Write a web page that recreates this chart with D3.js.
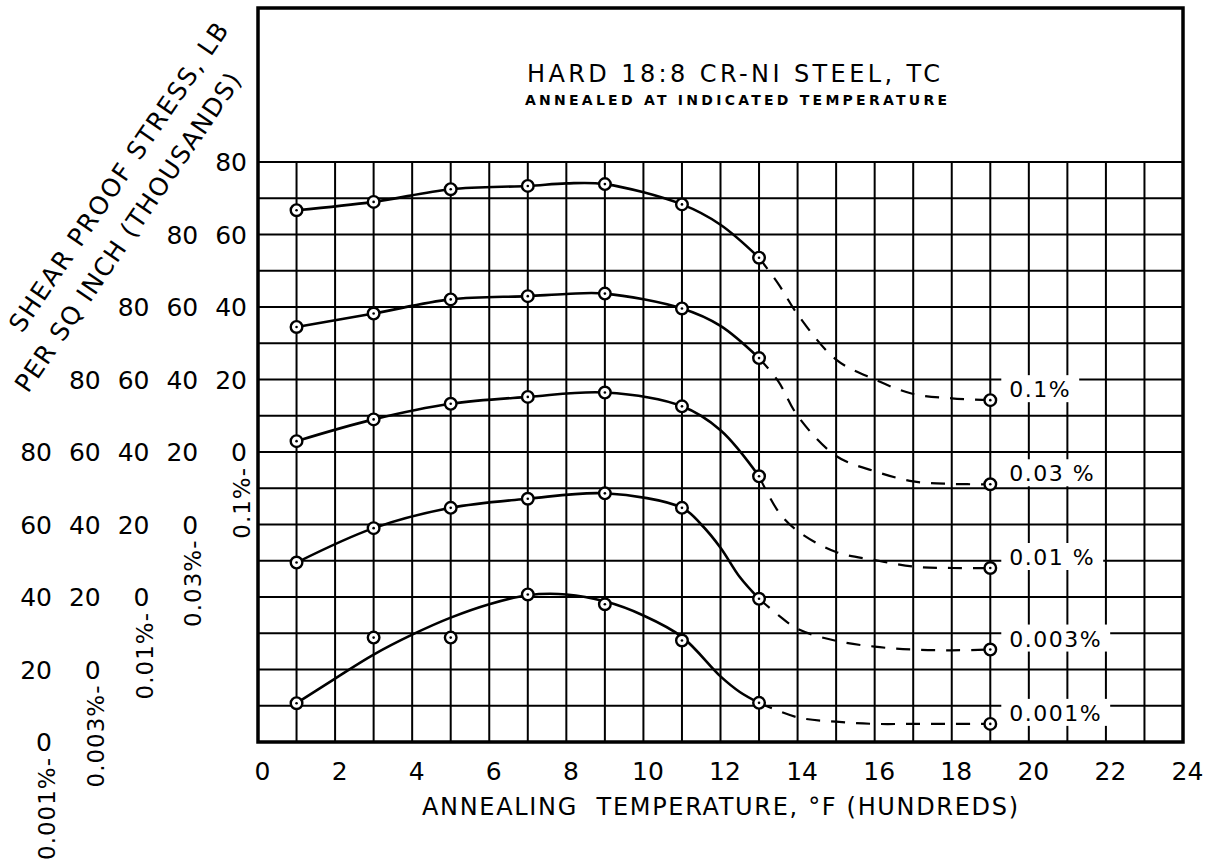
<!DOCTYPE html>
<html>
<head>
<meta charset="utf-8">
<script src="https://cdn.jsdelivr.net/npm/d3@7/dist/d3.min.js"></script>
<style>
    body { margin: 0; background: #fff; }
    text { font-family: "DejaVu Sans", sans-serif; fill: #000; }
</style>
</head>
<body>
<div id="chart"></div>
<script>
// annealing temperatures (hundreds of deg F) where tests were made
var temps = [1, 3, 5, 7, 9, 11, 13, 19];
var seriesNames = ["0.1%", "0.03 %", "0.01 %", "0.003%", "0.001%"];
var scaleNames = ["0.1%-", "0.03%-", "0.01%-", "0.003%-", "0.001%-"];
var scaleShift = [80, 60, 40, 20, 0];
var yTicks = [0, 20, 40, 60, 80];
var xTicks = [0, 2, 4, 6, 8, 10, 12, 14, 16, 18, 20, 22, 24];

// measured points, thousands of psi
var p01 = [66.7, 69.0, 72.5, 73.4, 73.9, 68.3, 53.6, 14.3];
var p003 = [54.5, 58.2, 62.1, 63.0, 63.7, 59.6, 45.9, 11.1];
var p001 = [43.0, 49.0, 53.3, 55.2, 56.4, 52.6, 33.3, 8.0];
var p0003 = [29.5, 39.0, 44.6, 47.1, 48.6, 44.6, 19.5, 5.5];
var p0001 = [10.7, 28.8, 28.8, 40.7, 38.0, 28.0, 10.8, 5.0];

// faired curves as drawn (solid part, then dashed part)
var fit01 = [[1, 66.7], [3, 69.0], [5, 72.5], [7, 73.4], [8, 74.1], [9, 73.9], [11, 68.3], [12, 62.7], [13, 53.6]];
var dash01 = [[13, 53.6], [13.5, 46.4], [14, 38], [15, 25.5], [16, 20], [17, 16], [18, 14.8], [19, 14.3]];
var fit003 = [[1, 54.5], [3, 58.2], [5, 62.1], [7, 63.0], [8, 63.6], [9, 63.7], [11, 59.6], [12, 54.8], [13, 45.9]];
var dash003 = [[13, 45.9], [13.5, 39.5], [14, 30], [15, 18.9], [16, 14.7], [17, 11.9], [18, 11.2], [19, 11.1]];
var fit001 = [[1, 43.0], [3, 49.0], [5, 53.3], [7, 55.2], [9, 56.4], [11, 52.6], [12, 46], [13, 33.3]];
var dash001 = [[13, 33.3], [13.5, 23.6], [14, 18.2], [15, 12.4], [16, 10.2], [17, 8.4], [18, 8.0], [19, 8.0]];
var fit0003 = [[1, 29.5], [3, 39.0], [5, 44.6], [7, 47.1], [9, 48.6], [11, 44.6], [11.5, 40], [12, 33.6], [12.5, 25.5], [13, 19.5]];
var dash0003 = [[13, 19.5], [13.5, 15], [14, 11.2], [15, 7.9], [16, 6.3], [17, 5.5], [18, 5.3], [19, 5.5]];
var fit0001 = [[1, 10.7], [2, 17.5], [3, 24.1], [4, 29.6], [5, 34.3], [6, 38.0], [7, 40.5], [8, 40.7], [9, 38.8], [10, 34.9], [11, 29], [12, 18.1], [12.5, 13.8], [13, 10.8]];
var dash0001 = [[13, 10.8], [14, 6.8], [15, 5.6], [16, 5.0], [17, 5.0], [18, 5.0], [19, 5.0]];

(function() {
    "use strict";
    var points = [p01, p003, p001, p0003, p0001];
    var solids = [fit01, fit003, fit001, fit0003, fit0001];
    var dashes = [dash01, dash003, dash001, dash0003, dash0001];

    var W = 1205, H = 862;
    var left = 258, right = 1183, top = 8, gridTop = 162, bottom = 742;

    var svg = d3.select("#chart").append("svg")
        .attr("width", W).attr("height", H);

    var x = d3.scaleLinear().domain([0, 24]).range([left, right]);
    var y = d3.scaleLinear().domain([0, 160]).range([bottom, gridTop]);
    var col = d3.scalePoint().domain(seriesNames).range([247, 52]);

    // grid
    var grid = svg.append("g").attr("stroke", "#000").attr("stroke-width", 2);
    grid.selectAll("line.v").data(d3.range(1, 24)).join("line")
        .attr("class", "v")
        .attr("x1", function(d) { return x(d); }).attr("x2", function(d) { return x(d); })
        .attr("y1", gridTop).attr("y2", bottom);
    grid.selectAll("line.h").data(d3.range(10, 161, 10)).join("line")
        .attr("class", "h")
        .attr("x1", left).attr("x2", right)
        .attr("y1", function(d) { return y(d); }).attr("y2", function(d) { return y(d); });

    // curve labels on white patches
    var labels = svg.append("g");
    seriesNames.forEach(function(name, i) {
        var last = points[i][points[i].length - 1];
        var lx = x(temps[temps.length - 1]) + 19;
        var ly = y(last + scaleShift[i]) - 3;
        var t = labels.append("text")
            .attr("x", lx).attr("y", ly)
            .attr("font-size", 22)
            .attr("letter-spacing", 1.5)
            .text(name);
        var b = t.node().getBBox();
        labels.insert("rect", "text")
            .attr("x", b.x - 8).attr("y", b.y - 2)
            .attr("width", b.width + 16).attr("height", b.height + 2)
            .attr("fill", "#fff");
    });

    // frame
    svg.append("rect")
        .attr("x", left).attr("y", top)
        .attr("width", right - left).attr("height", bottom - top)
        .attr("fill", "none").attr("stroke", "#000").attr("stroke-width", 3.5);

    // curves
    var line = d3.line()
        .curve(d3.curveCatmullRom.alpha(0.5));
    seriesNames.forEach(function(name, i) {
        var s = scaleShift[i];
        line.x(function(d) { return x(d[0]); })
            .y(function(d) { return y(d[1] + s); });
        svg.append("path")
            .attr("d", line(solids[i]))
            .attr("fill", "none").attr("stroke", "#000").attr("stroke-width", 2.6);
        svg.append("path")
            .attr("d", line(dashes[i]))
            .attr("fill", "none").attr("stroke", "#000").attr("stroke-width", 2.2)
            .attr("stroke-dasharray", "14 11");
        var g = svg.append("g");
        var pts = temps.map(function(t, j) { return [t, points[i][j]]; });
        g.selectAll("circle.m").data(pts).join("circle")
            .attr("class", "m")
            .attr("cx", function(d) { return x(d[0]); })
            .attr("cy", function(d) { return y(d[1] + s); })
            .attr("r", 5.8)
            .attr("fill", "#fff").attr("stroke", "#000").attr("stroke-width", 2.4);
        g.selectAll("circle.c").data(pts).join("circle")
            .attr("class", "c")
            .attr("cx", function(d) { return x(d[0]); })
            .attr("cy", function(d) { return y(d[1] + s); })
            .attr("r", 1.3).attr("fill", "#000");
    });

    // x axis labels
    var xAxis = d3.axisBottom(x).tickValues(xTicks).tickSize(0).tickPadding(20);
    var gx = svg.append("g").attr("transform", "translate(4," + bottom + ")").call(xAxis);
    gx.select(".domain").remove();
    gx.selectAll("text").attr("font-size", 25).attr("font-family", "DejaVu Sans").attr("fill", "#000");

    // staggered y scales, one per curve
    seriesNames.forEach(function(name, i) {
        var s = scaleShift[i];
        var ys = d3.scaleLinear().domain([-s, 160 - s]).range([bottom, gridTop]);
        var gy = svg.append("g")
            .attr("transform", "translate(" + col(name) + ",0)")
            .call(d3.axisLeft(ys).tickValues(yTicks).tickSize(0).tickPadding(0));
        gy.select(".domain").remove();
        gy.selectAll("text").attr("font-size", 25).attr("font-family", "DejaVu Sans")
            .attr("fill", "#000").attr("dy", "0.35em");
        svg.append("text")
            .attr("transform", "translate(" + (col(name) + 3) + "," + (y(s) + 15) + ") rotate(-90)")
            .attr("text-anchor", "end")
            .attr("font-size", 23)
            .attr("letter-spacing", 1)
            .text(scaleNames[i]);
    });

    // titles
    svg.append("text")
        .attr("x", 527).attr("y", 82)
        .attr("font-size", 24)
        .attr("textLength", 413).attr("lengthAdjust", "spacing")
        .text("HARD 18:8 CR-NI STEEL, TC");
    svg.append("text")
        .attr("x", 525).attr("y", 105)
        .attr("font-size", 14).attr("font-weight", "bold")
        .attr("textLength", 422).attr("lengthAdjust", "spacing")
        .text("ANNEALED AT INDICATED TEMPERATURE");
    svg.append("text")
        .attr("x", 422).attr("y", 815)
        .attr("font-size", 24)
        .attr("textLength", 596).attr("lengthAdjust", "spacing")
        .style("white-space", "pre")
        .text("ANNEALING  TEMPERATURE, °F (HUNDREDS)");
    svg.append("text")
        .attr("transform", "translate(22,334) rotate(-55.7)")
        .attr("font-size", 25)
        .attr("textLength", 368).attr("lengthAdjust", "spacing")
        .text("SHEAR PROOF STRESS, LB");
    svg.append("text")
        .attr("transform", "translate(28,394) rotate(-55.7)")
        .attr("font-size", 25)
        .attr("textLength", 380).attr("lengthAdjust", "spacing")
        .text("PER SQ INCH (THOUSANDS)");
}());
</script>
</body>
</html>
